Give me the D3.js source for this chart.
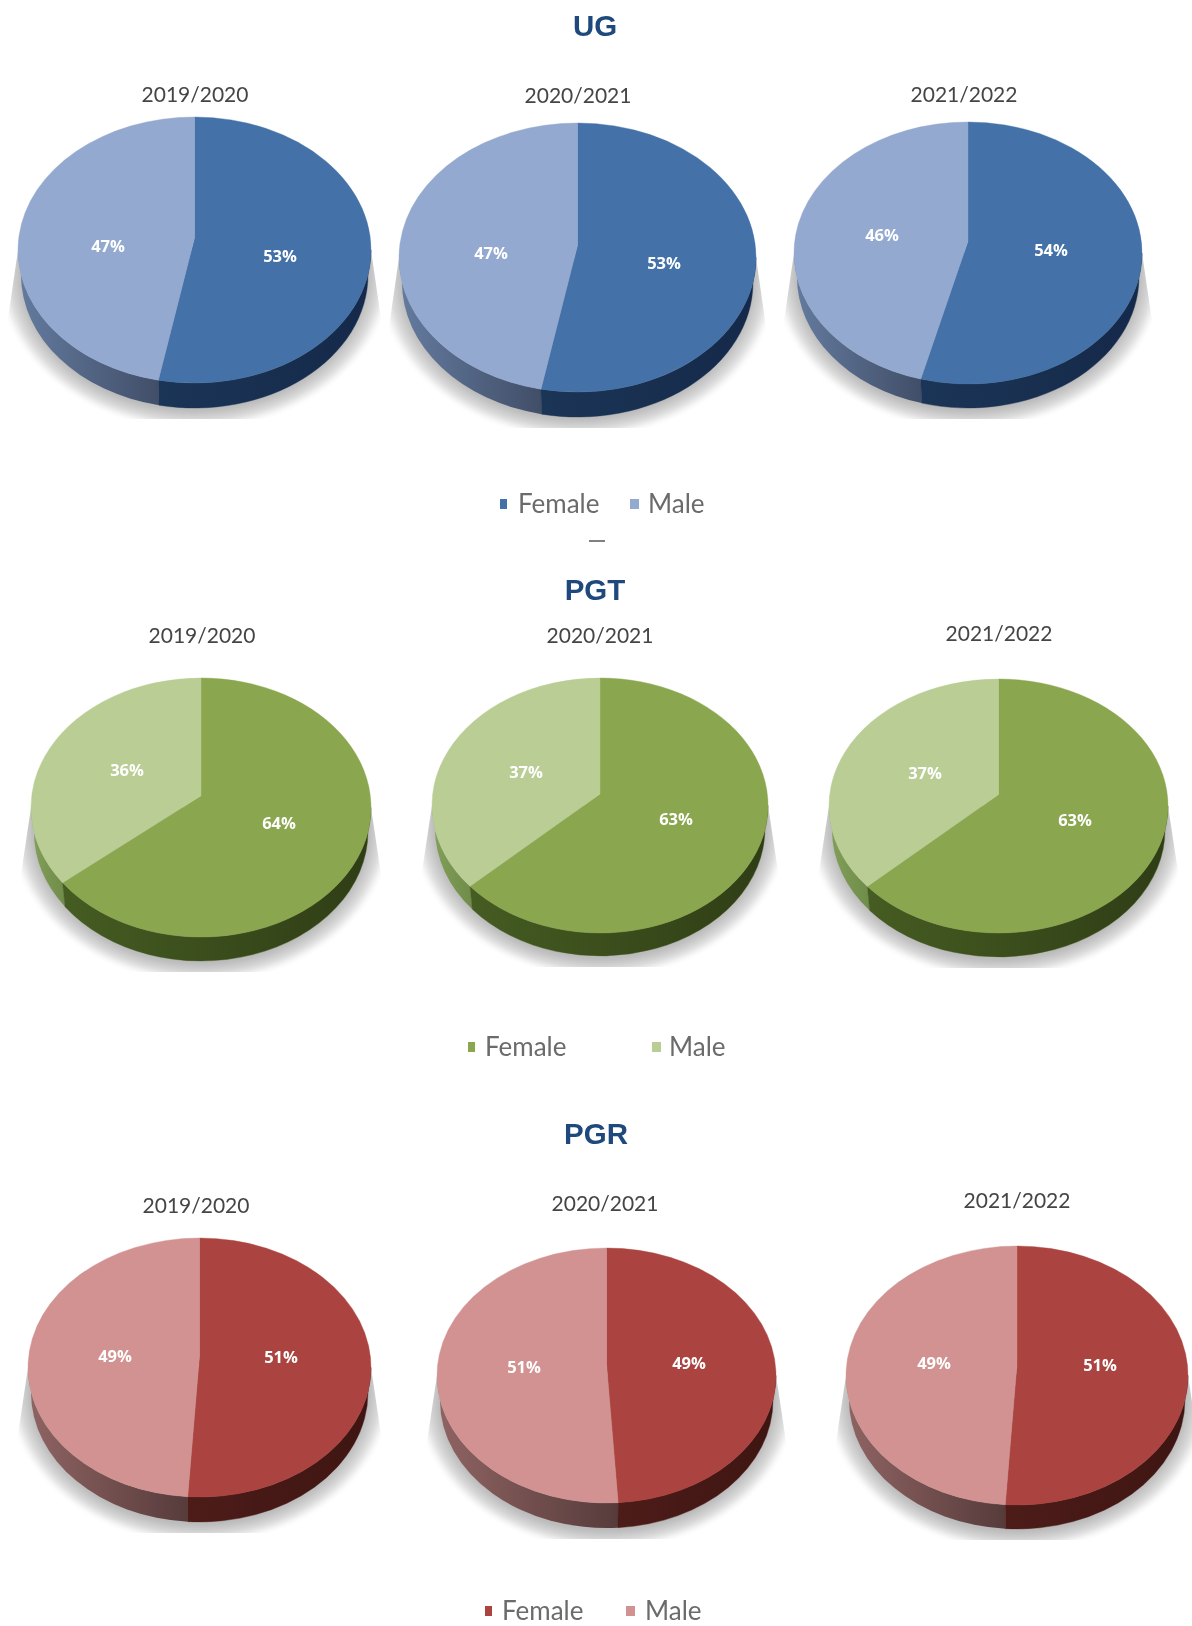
<!DOCTYPE html>
<html><head><meta charset="utf-8">
<script src="https://cdn.jsdelivr.net/npm/d3@7"></script>
<style>html,body{margin:0;padding:0;background:#fff}svg{display:block;filter:blur(.45px)}</style>
</head><body><div id="chart"></div>
<script>
// ---- values ----
const years = ["2019/2020", "2020/2021", "2021/2022"];
const genders = ["Female", "Male"];
const levels = ["UG", "PGT", "PGR"];
const ugFemale  = [53, 53, 54];
const ugMale    = [47, 47, 46];
const pgtFemale = [64, 63, 63];
const pgtMale   = [36, 37, 37];
const pgrFemale = [51, 49, 51];
const pgrMale   = [49, 51, 49];

// ---- layout: [left, right, top, front edge of top face, bottom of wall] ----
const boxes = {
  UG:  [[18,371,117,383,408],[399,756,123,392,417],[794,1142,122,384,408]],
  PGT: [[31,371,678,937,961],[432,768,678,933,956],[829,1168,679,933,957]],
  PGR: [[28,371,1238,1497,1522],[437,776,1248,1503,1528],[846,1188,1246,1505,1529]]
};
const yearPos = {
  UG:  [[195,93.5],[578,94.5],[964,93.5]],
  PGT: [[202,634.5],[600,634.5],[999,632.5]],
  PGR: [[196,1204],[605,1202],[1017,1199.5]]
};
const labelPos = {
  UG:  [[[280,255],[108,245]],[[664,262],[491,252]],[[1051,249],[882,234]]],
  PGT: [[[279,822],[127,769]],[[676,818],[526,771]],[[1075,819],[925,772]]],
  PGR: [[[281,1356],[115,1355]],[[689,1362],[524,1366]],[[1100,1364],[934,1362]]]
};
const titlePos = {UG:[595,25], PGT:[595,589], PGR:[596,1133]};
// legend: y, female swatch x, female text x, male swatch x, male text x
const legendPos = {UG:[503,500,518,630,648], PGT:[1046,468,485,652,669], PGR:[1610,485,502,626,645]};

const values = {UG:[ugFemale,ugMale], PGT:[pgtFemale,pgtMale], PGR:[pgrFemale,pgrMale]};
const palette = {
  UG:  {top:["#4371a8","#93a9d0"], wallF:["#1b3556","#15294a"], wallM:["#647b9f","#414e68"]},
  PGT: {top:["#8aa64e","#b9cd94"], wallF:["#455c22","#2f3d15"], wallM:["#82a05a","#6f8c48"]},
  PGR: {top:["#ab4440","#d19291"], wallF:["#4d1c19","#3e1512"], wallM:["#8f6463","#573b3b"]}
};
const tilt = 0.09; // perspective strength of the top face

const svg = d3.select("#chart").append("svg").attr("width",1192).attr("height",1626);
svg.append("rect").attr("width",1192).attr("height",1626).attr("fill","#fff");
const defs = svg.append("defs");
const rg = defs.append("radialGradient").attr("id","shadow");
[[0,"#b4b4b4"],[.88,"#b9b9b9"],[.95,"#dadada"],[1,"#ffffff"]].forEach(s=>rg.append("stop").attr("offset",s[0]).attr("stop-color",s[1]));
defs.append("filter").attr("id","soft").attr("x","-10%").attr("y","-10%").attr("width","120%").attr("height","120%")
  .append("feGaussianBlur").attr("stdDeviation",2);

const pie = d3.pie().sort(null).startAngle(0).endAngle(2*Math.PI);
const uiFont = "Lato, 'Open Sans', sans-serif";

// true pie angle -> parameter angle on the drawn ellipse, under a slight perspective
function warp(a){
  const w = 1 + tilt*Math.cos(a), q = 1 - tilt*tilt;
  const X = Math.sin(a)/w, Y = -Math.cos(a)/w;
  return Math.atan2(X*Math.sqrt(q), -(Y*q - tilt));
}
const norm = a => a < 0 ? a + 2*Math.PI : a;

levels.forEach(level=>{
  const pal = palette[level];
  const colour = d3.scaleOrdinal().domain(genders).range(pal.top);
  ["wallF","wallM"].forEach(k=>{
    const g = defs.append("linearGradient").attr("id",level+k);
    g.append("stop").attr("offset",0).attr("stop-color",pal[k][0]);
    g.append("stop").attr("offset",1).attr("stop-color",pal[k][1]);
  });

  years.forEach((year,i)=>{
    const [l,r,t,f,b] = boxes[level][i];
    const cx=(l+r)/2, rx=(r-l)/2, cy=(t+f)/2, ry=(f-t)/2, depth=b-f;
    const apexY = cy - ry*tilt;
    const brx = rx-3;
    const pt = (a,dx,dy,oy=0)=>[cx+dx*Math.sin(a), cy+oy-dy*Math.cos(a)];
    const slices = pie([values[level][0][i], values[level][1][i]]);
    const split = norm(warp(slices[0].endAngle));
    const g = svg.append("g").attr("class","pie");

    // ground shadow
    const clipId = `clip-${level}-${i}`;
    const sx = 12, sy = cy+ry*0.62, sb = b+11;
    defs.append("clipPath").attr("id",clipId).append("path")
      .attr("d",`M${l},${cy}L${l-sx},${sy}L${l-sx},${sb}L${r+sx},${sb}L${r+sx},${sy}L${r},${cy}Z`);
    g.append("g").attr("clip-path",`url(#${clipId})`)
      .append("ellipse").attr("cx",cx).attr("cy",cy+depth-4).attr("rx",rx+19).attr("ry",ry+24)
      .attr("fill","url(#shadow)").attr("filter","url(#soft)");

    // wall pieces
    const wall = (a0,a1)=>{
      const p0=pt(a0,rx,ry), p1=pt(a1,rx,ry), q1=pt(a1,brx,ry,depth), q0=pt(a0,brx,ry,depth);
      return `M${p0}A${rx},${ry} 0 0 1 ${p1}L${q1}A${brx},${ry} 0 0 0 ${q0}Z`;
    };
    g.append("path").attr("d",wall(split,1.5*Math.PI)).attr("fill",`url(#${level}wallM)`);
    g.append("path").attr("d",wall(Math.PI/2,split)).attr("fill",`url(#${level}wallF)`)
      .attr("stroke",pal.wallF[0]).attr("stroke-width",.4);

    // top face slices
    g.selectAll("path.slice").data(slices).join("path").attr("class","slice")
      .attr("fill",(d,j)=>colour(genders[j]))
      .attr("stroke",(d,j)=>colour(genders[j])).attr("stroke-width",.4)
      .attr("d",d=>{
        const a0=warp(d.startAngle), a1=warp(d.endAngle);
        const large = d.endAngle-d.startAngle>Math.PI?1:0;
        return `M${cx},${apexY}L${pt(a0,rx,ry)}A${rx},${ry} 0 ${large} 1 ${pt(a1,rx,ry)}Z`;
      });

    // percentage labels
    g.selectAll("text.pct").data(slices).join("text").attr("class","pct")
      .attr("x",(d,j)=>labelPos[level][i][j][0]).attr("y",(d,j)=>labelPos[level][i][j][1])
      .attr("text-anchor","middle").attr("dominant-baseline","central")
      .attr("font-family","'Open Sans', sans-serif").attr("font-weight",700).attr("font-size",16.5)
      .attr("fill","#fff").text(d=>d.data+"%");

    // year title
    svg.append("text").attr("x",yearPos[level][i][0]).attr("y",yearPos[level][i][1])
      .attr("text-anchor","middle").attr("dominant-baseline","central")
      .attr("font-family",uiFont).attr("font-size",21).attr("fill","#454545").text(year);
  });

  // section title
  svg.append("text").attr("x",titlePos[level][0]).attr("y",titlePos[level][1])
    .attr("text-anchor","middle").attr("dominant-baseline","central")
    .attr("font-family","'Liberation Sans', Arial, sans-serif").attr("font-weight",700).attr("font-size",29.5)
    .attr("fill","#1f497d").text(level);

  // legend
  const [ly,s0,t0,s1,t1] = legendPos[level];
  [[s0,t0],[s1,t1]].forEach((p,j)=>{
    svg.append("rect").attr("x",p[0]).attr("y",ly-4).attr("width",j?9:7).attr("height",10).attr("fill",pal.top[j]);
    svg.append("text").attr("x",p[1]).attr("y",ly).attr("dominant-baseline","central")
      .attr("font-family",uiFont).attr("font-size",26).attr("fill","#6b6b6b").text(genders[j]);
  });
});

// small stray dash between the first legend and the PGT title
svg.append("rect").attr("x",589).attr("y",540).attr("width",16).attr("height",2).attr("fill","#808080");
</script></body></html>
